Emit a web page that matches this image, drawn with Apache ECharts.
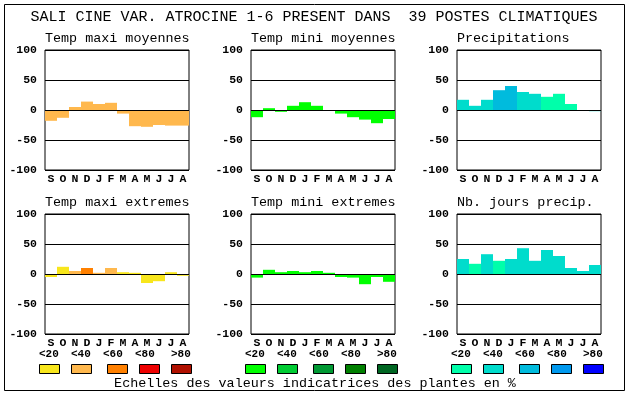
<!DOCTYPE html>
<html><head><meta charset="utf-8">
<script src="https://cdn.jsdelivr.net/npm/echarts@6/dist/echarts.min.js"></script>
<style>html,body{margin:0;padding:0;background:#fff}#c{width:630px;height:394px}</style>
</head><body><div id="c"></div>
<script>
// ---- data ----
const months = ['S','O','N','D','J','F','M','A','M','J','J','A'];
const panelTitles = ['Temp maxi moyennes','Temp mini moyennes','Precipitations','Temp maxi extremes','Temp mini extremes','Nb. jours precip.'];
const mainTitle = 'SALI CINE VAR. ATROCINE 1-6 PRESENT DANS  39 POSTES CLIMATIQUES';
const caption = 'Echelles des valeurs indicatrices des plantes en %';
const classLabels = ['<20','<40','<60','<80','>80'];
const warmColors = ['#f8e61c','#ffb84d','#ff8000','#ee0000','#b01000'];
const greenColors = ['#00ff00','#00cc33','#009933','#008000','#006622'];
const blueColors = ['#00ffaa','#00dccc','#00bbdd','#0099ee','#0000ff'];

const tmaxMoy = [-18,-13,5,14,10,12,-6,-27,-28,-25,-26,-26];
const tmaxMoyCls = [1,1,1,1,1,1,1,1,1,1,1,1];
const tminMoy = [-12,3,-3,7,13,7,0,-6,-12,-16,-22,-15];
const tminMoyCls = [0,0,0,0,0,0,0,0,0,0,0,0];
const precip = [17,7,17,33,40,30,27,22,27,10,0,-2];
const precipCls = [1,1,1,2,2,1,1,0,0,0,0,1];
const tmaxExt = [-5,12,5,10,2,10,3,2,-15,-12,3,-3];
const tmaxExtCls = [0,0,1,2,1,1,0,0,0,0,0,0];
const tminExt = [-6,7,3,5,3,5,2,-5,-6,-17,-5,-13];
const tminExtCls = [0,0,0,0,0,0,0,0,0,0,0,0];
const nbJours = [25,17,33,22,25,43,22,40,30,10,5,15];
const nbJoursCls = [1,0,1,0,1,1,1,1,1,1,1,1];
const yTicks = {min:-100, max:100, interval:50};

// ---- layout ----
const panels = [
  {v:tmaxMoy, c:tmaxMoyCls, pal:warmColors},
  {v:tminMoy, c:tminMoyCls, pal:greenColors},
  {v:precip, c:precipCls, pal:blueColors},
  {v:tmaxExt, c:tmaxExtCls, pal:warmColors},
  {v:tminExt, c:tminExtCls, pal:greenColors},
  {v:nbJours, c:nbJoursCls, pal:blueColors}
];
const lefts = [45, 251, 457];
const tops = [50, 214];
const W = 144, H = 120;
const mono = 'Liberation Mono, DejaVu Sans Mono, monospace';

const grid = [], xAxis = [], yAxis = [], series = [], graphic = [];
panels.forEach((p, i) => {
  const col = i % 3, row = Math.floor(i / 3);
  grid.push({left: lefts[col], top: tops[row], width: W, height: H, show: true,
    borderColor: '#000', borderWidth: 1, backgroundColor: '#fff'});
  xAxis.push({type: 'category', gridIndex: i, data: months, position: 'bottom',
    axisLine: {show: false}, axisTick: {show: false},
    axisLabel: {interval: 0, margin: 3, color: '#000', fontFamily: mono, fontWeight: 'bold', fontSize: 11.5}});
  yAxis.push({type: 'value', gridIndex: i, min: yTicks.min, max: yTicks.max, interval: yTicks.interval, z: 5,
    axisLine: {show: false}, axisTick: {show: false},
    splitLine: {show: true, lineStyle: {color: '#000', width: 1}},
    axisLabel: {margin: 8, color: '#000', fontFamily: mono, fontWeight: 'bold', fontSize: 11.5}});
  series.push({type: 'bar', xAxisIndex: i, yAxisIndex: i, barWidth: '100%', barCategoryGap: 0,
    silent: true, animation: false,
    data: p.v.map((v, k) => ({value: v, itemStyle: {color: p.pal[p.c[k]]}}))});
  graphic.push({type: 'text', left: lefts[col], top: row === 0 ? 32 : 196,
    style: {text: panelTitles[i], fill: '#000', font: '13.4px ' + mono}});
});

// outer border
graphic.push({type: 'rect', shape: {x: 4.5, y: 4.5, width: 620, height: 386},
  style: {fill: 'none', stroke: '#000', lineWidth: 1}, z: 0});
// main title
graphic.push({type: 'text', x: 314, y: 17,
  style: {text: mainTitle, fill: '#000', font: '15px ' + mono, textAlign: 'center', textVerticalAlign: 'middle'}});
// legends
const groupX = [39, 245, 451];
const labelDx = [0, 32, 64, 96, 132];
const swatchDx = [0, 32, 68, 100, 132];
const palettes = [warmColors, greenColors, blueColors];
palettes.forEach((pal, g) => {
  classLabels.forEach((lab, k) => {
    graphic.push({type: 'text', x: groupX[g] + labelDx[k], y: 354,
      style: {text: lab, fill: '#000', font: 'bold 11px ' + mono, textAlign: 'left', textVerticalAlign: 'middle'}});
    graphic.push({type: 'rect', shape: {x: groupX[g] + swatchDx[k] + 0.5, y: 364.5, width: 20, height: 9},
      style: {fill: pal[k], stroke: '#000', lineWidth: 1}});
  });
});
graphic.push({type: 'text', x: 315, y: 383,
  style: {text: caption, fill: '#000', font: '13.4px ' + mono, textAlign: 'center', textVerticalAlign: 'middle'}});

const chart = echarts.init(document.getElementById('c'), null, {renderer: 'canvas'});
chart.setOption({animation: false, backgroundColor: '#fff', grid, xAxis, yAxis, series, graphic});
</script></body></html>
